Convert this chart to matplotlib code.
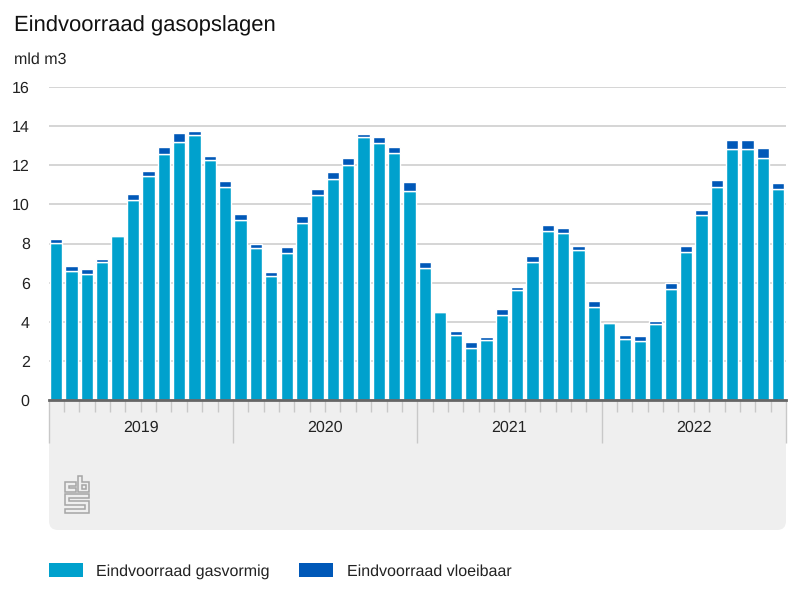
import numpy as np
import matplotlib.pyplot as plt
from matplotlib.patches import FancyBboxPatch, Polygon, Rectangle

plt.rcParams["font.family"] = ["Liberation Sans", "DejaVu Sans"]
plt.rcParams["text.hinting"] = "no_hinting"
plt.rcParams["text.hinting_factor"] = 1

years = ["2019", "2020", "2021", "2022"]
gas = [
    8.05, 6.6, 6.45, 7.05, 8.4, 10.2, 11.45, 12.6, 13.2, 13.55, 12.25, 10.9,
    9.2, 7.75, 6.35, 7.5, 9.05, 10.5, 11.3, 12.0, 13.45, 13.15, 12.65, 10.7,
    6.75, 4.5, 3.3, 2.65, 3.05, 4.35, 5.6, 7.05, 8.65, 8.55, 7.65, 4.75,
    3.95, 3.1, 3.0, 3.9, 5.65, 7.55, 9.45, 10.9, 12.85, 12.85, 12.35, 10.8,
]
lng = [
    0.17, 0.25, 0.25, 0.17, 0.0, 0.35, 0.27, 0.35, 0.43, 0.22, 0.22, 0.3,
    0.3, 0.25, 0.2, 0.3, 0.35, 0.27, 0.35, 0.35, 0.15, 0.3, 0.27, 0.43,
    0.3, 0.0, 0.25, 0.3, 0.17, 0.3, 0.2, 0.3, 0.3, 0.25, 0.2, 0.3,
    0.0, 0.2, 0.25, 0.15, 0.35, 0.3, 0.27, 0.35, 0.43, 0.43, 0.53, 0.3,
]
yticks = [0, 2, 4, 6, 8, 10, 12, 14, 16]

W, H = 800, 600
LIGHT_BLUE = "#00a1cd"
DARK_BLUE = "#0058b8"
PANEL = "#efefef"
TICK = "#c8c8c8"
TEXT = "#222222"

fig = plt.figure(figsize=(8, 6), dpi=100, facecolor="white")

# pixel overlay for panel, logo and legend
bg = fig.add_axes([0, 0, 1, 1], zorder=0)
bg.set_xlim(0, W)
bg.set_ylim(H, 0)
bg.axis("off")
bg.add_patch(FancyBboxPatch((49, 400), 737, 130, boxstyle="round,pad=0,rounding_size=9",
                            fc=PANEL, ec="none"))
bg.add_patch(Rectangle((49, 400), 737, 40, fc=PANEL, ec="none"))

# cbs logo
logo_c = [(65, 482), (76, 482), (76, 486), (69, 486), (69, 488), (76, 488), (76, 492), (65, 492)]
logo_b = [(78, 476), (82, 476), (82, 482), (89, 482), (89, 492), (78, 492)]
logo_b_hole = [(82, 485), (86, 485), (86, 489), (82, 489)]
logo_s = [(65, 494), (89, 494), (89, 498), (69, 498), (69, 501), (89, 501), (89, 513),
          (65, 513), (65, 509), (85, 509), (85, 505), (65, 505)]
for part in [logo_c, logo_b, logo_b_hole, logo_s]:
    bg.add_patch(Polygon(part, closed=True, fc="none", ec="#a5a5a5", lw=1.1, joinstyle="miter"))

# legend
bg.add_patch(Rectangle((49, 563), 34, 14, fc=LIGHT_BLUE, ec="none"))
bg.add_patch(Rectangle((299, 563), 34, 14, fc=DARK_BLUE, ec="none"))
bg.text(96, 570, "Eindvoorraad gasvormig", fontsize=11.4, color=TEXT, va="center_baseline")
bg.text(347, 570, "Eindvoorraad vloeibaar", fontsize=11.4, color=TEXT, va="center_baseline")

bg.text(14, 23, "Eindvoorraad gasopslagen", fontsize=16.15, color="#111111", va="center_baseline")
bg.text(14, 58, "mld m3", fontsize=11.5, color=TEXT, va="center_baseline")

# chart
ax = fig.add_axes([48.5 / W, 1 - 400 / H, 737.5 / W, 313 / H], zorder=1)
ax.patch.set_alpha(0)
x = np.arange(len(gas))
ax.bar(x, gas, width=0.8, color=LIGHT_BLUE, edgecolor="white", linewidth=1.0, zorder=3)
ax.bar(x, lng, width=0.8, bottom=gas, color=DARK_BLUE, edgecolor="white", linewidth=1.0, zorder=3)

ax.set_xlim(-0.5, len(gas) - 0.5)
ax.set_ylim(0, 16)
ax.set_yticks(yticks)
ax.yaxis.grid(True, color="#d2d2d2", lw=1.3, zorder=1)
ax.set_axisbelow(True)
ax.tick_params(axis="y", length=0, labelsize=11.5, labelcolor=TEXT, pad=13.5)
for spine in ["top", "left", "right"]:
    ax.spines[spine].set_visible(False)
ax.spines["bottom"].set_color("#666666")
ax.spines["bottom"].set_linewidth(2)
ax.spines["bottom"].set_zorder(5)

# month ticks and year separators
month_edges = np.arange(0, len(gas) + 1) - 0.5
year_edges = month_edges[::12]
ax.set_xticks([e for e in month_edges if e not in year_edges])
ax.set_xticks(year_edges, minor=True)
ax.tick_params(axis="x", which="major", length=8.5, width=1, color=TICK, labelbottom=False)
ax.tick_params(axis="x", which="minor", length=31, width=1, color=TICK)
for i, year in enumerate(years):
    ax.annotate(year, (year_edges[i] + 6, 0), xytext=(0, -19), textcoords="offset points",
                ha="center", va="center_baseline",
                fontsize=11.5, color=TEXT, annotation_clip=False)

fig.savefig("out.png", dpi=100)
